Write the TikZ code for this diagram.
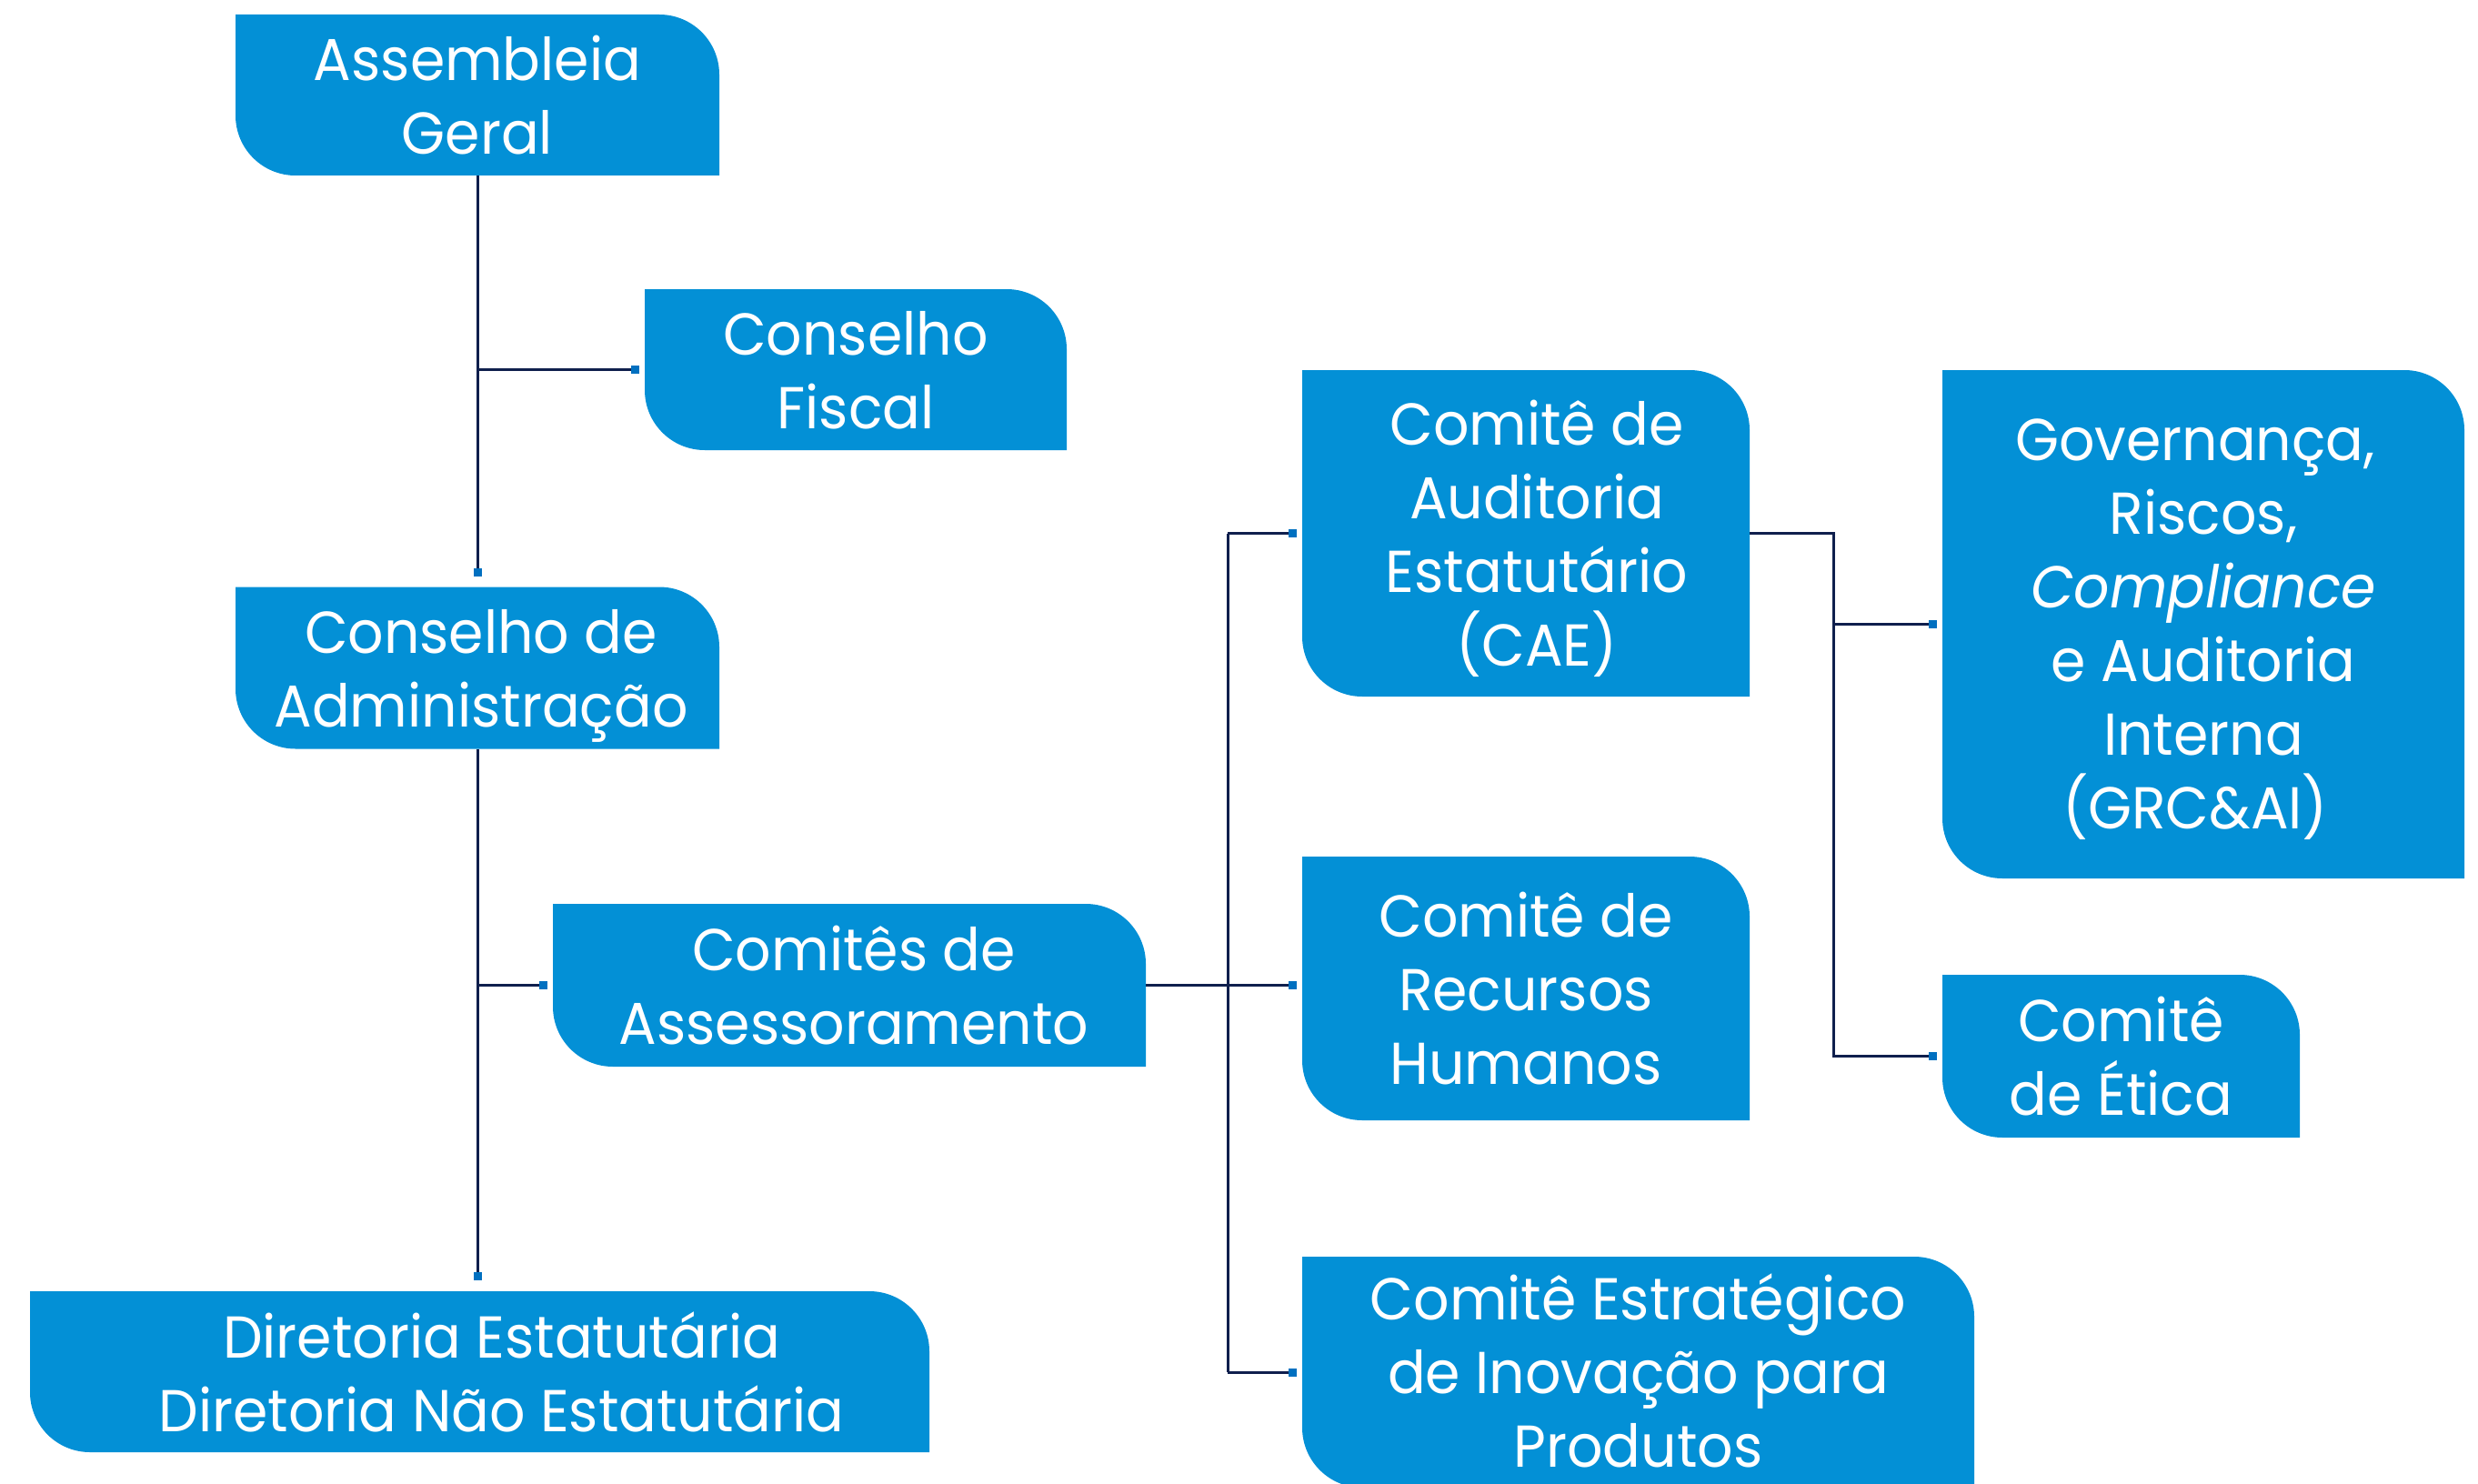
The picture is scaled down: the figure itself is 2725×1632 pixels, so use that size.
\documentclass[tikz,border=0pt]{standalone}
\usepackage{fontspec}
\setmainfont{Poppins}[FakeStretch=0.95]
\usetikzlibrary{arrows.meta}

\definecolor{boxblue}{HTML}{0390D6}
\definecolor{linenavy}{HTML}{0F1F4D}
\definecolor{tipblue}{HTML}{0070C0}

\tikzset{
  orgbox/.style={rectangle, inner sep=0pt, outer sep=0pt, align=center, text=white,
    font=\fontsize{65}{81}\selectfont, text depth=-2pt,
    path picture={\fill[boxblue] (path picture bounding box.north west)
      -- ([xshift=-66pt]path picture bounding box.north east) arc[start angle=90, end angle=0, radius=66pt]
      -- (path picture bounding box.south east)
      -- ([xshift=66pt]path picture bounding box.south west) arc[start angle=270, end angle=180, radius=66pt]
      -- cycle;}},
  link/.style={draw=linenavy, line width=3pt},
  linkend/.style={link, -{Square[length=9pt, width=9pt, color=tipblue]}}
}

\begin{document}
\begin{tikzpicture}[x=1pt, y=-1pt]
    \useasboundingbox (0,0) rectangle (2725,1632);

    % Assembleia e conselhos
    \node[orgbox, minimum width=532pt, minimum height=177pt] (ag) at (525,104.5) {Assembleia\\Geral};
    \node[orgbox, minimum width=464pt, minimum height=177pt] (cf) at (941,406.5) {Conselho\\Fiscal};
    \node[orgbox, minimum width=532pt, minimum height=178pt] (ca) at (525,734.5) {\hspace*{8pt}Conselho de\\\hspace*{8pt}Administração};

    % Comitês e diretoria
    \node[orgbox, minimum width=652pt, minimum height=179pt] (ass) at (934,1083.5) {\hspace*{10pt}Comitês de\\\hspace*{10pt}Assessoramento};
    \node[orgbox, minimum width=989pt, minimum height=177pt] (dir) at (527.5,1508.5) {\hspace*{48pt}Diretoria Estatutária\\\hspace*{48pt}Diretoria Não Estatutária};

    % Comitês de assessoramento
    \node[orgbox, minimum width=492pt, minimum height=359pt] (cae) at (1678,586.5) {\hspace*{24pt}Comitê de\\\hspace*{24pt}Auditoria\\\hspace*{24pt}Estatutário\\\hspace*{24pt}(CAE)};
    \node[orgbox, minimum width=492pt, minimum height=290pt] (rh) at (1678,1087) {Comitê de\\Recursos\\Humanos};
    \node[orgbox, minimum width=739pt, minimum height=254pt, text depth=4pt] (ine) at (1801.5,1509) {Comitê Estratégico\\de Inovação para\\Produtos};

    % Ligados ao CAE
    \node[orgbox, minimum width=574pt, minimum height=559pt] (grc) at (2423,686.5) {Governança,\hspace*{18pt}\\Riscos,\hspace*{18pt}\\\textit{Compliance}\hspace*{18pt}\\e Auditoria\hspace*{18pt}\\Interna\hspace*{18pt}\\(GRC\&AI)\hspace*{18pt}};
    \node[orgbox, minimum width=393pt, minimum height=179pt] (eti) at (2332.5,1161.5) {Comitê\\de Ética};

    % Linhas da esquerda
    \draw[linkend, shorten >=12pt] (ag.south) -- (ca.north);
    \draw[linkend, shorten >=6pt] (ag.south |- cf.west) -- (cf.west);
    \draw[linkend, shorten >=12pt] (ca.south) -- (ca.south |- dir.north);
    \draw[linkend, shorten >=6pt] (ca.south |- ass.west) -- (ass.west);

    % Tronco dos comitês
    \coordinate (j1) at (1350,0);
    \draw[link] (j1 |- cae.west) -- (j1 |- ine.west);
    \draw[linkend, shorten >=6pt] (ass.east) -- (ass.east -| rh.west);
    \draw[linkend, shorten >=6pt] (j1 |- cae.west) -- (cae.west);
    \draw[linkend, shorten >=6pt] (j1 |- ine.west) -- (ine.west);

    % Tronco do CAE
    \coordinate (j2) at (2016,0);
    \draw[linkend, shorten >=6pt] (cae.east) -| (j2 |- eti.west) -- (eti.west);
    \draw[linkend, shorten >=6pt] (j2 |- grc.west) -- (grc.west);
\end{tikzpicture}
\end{document}
